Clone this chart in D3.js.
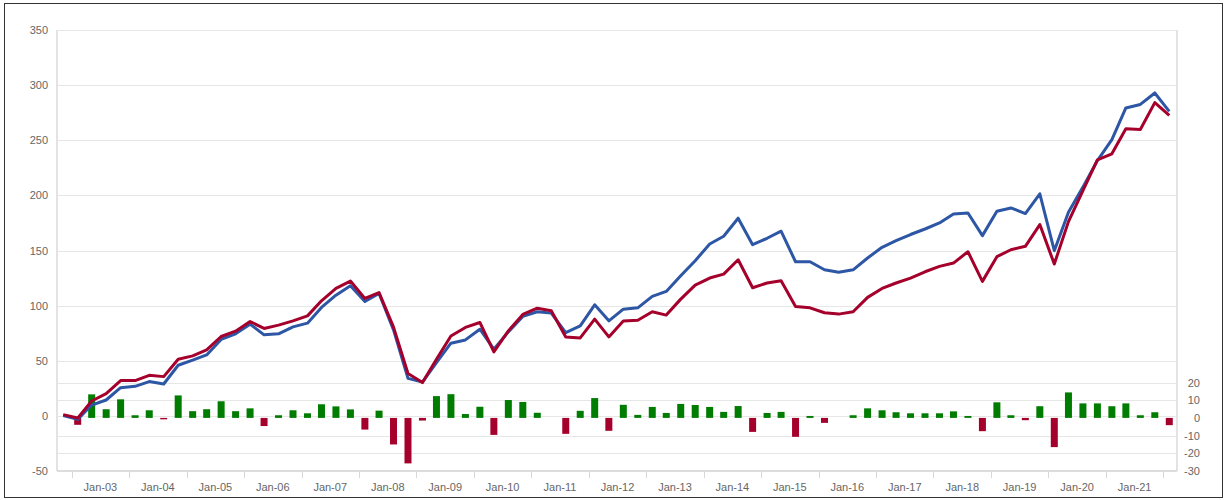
<!DOCTYPE html>
<html>
<head>
<meta charset="utf-8">
<script src="https://cdnjs.cloudflare.com/ajax/libs/d3/7.8.5/d3.min.js"></script>
<style>
  body { margin: 0; background: #fff; }
  svg text { font-family: "Liberation Sans", Arial, sans-serif; font-size: 11px; fill: #666; }
</style>
</head>
<body>
<div id="chart"></div>
<script>
// quarterly observations, Nov-02 .. Feb-22
var dates = d3.range(78).map(function(i) { return new Date(2002, 10 + 3 * i, 8); });

var blueSeries = [0.3, -3.2, 9.8, 14.4, 25.6, 26.8, 31.1, 28.9, 45.9, 50.5,
  55.3, 69.3, 74.4, 83.2, 73.5, 74.4, 80.7, 84.1, 98.4, 109.5,
  118, 103.8, 111, 78, 34, 30.7, 48.4, 65.9, 68.9, 78.6,
  60.5, 76.2, 90.2, 94.4, 93.2, 75.6, 81.6, 100.7, 86.2, 96.8,
  98, 108.4, 112.9, 127.1, 140.7, 155.9, 162.9, 179.3, 155.3, 161.1,
  167.5, 139.8, 139.8, 132.5, 130.2, 132.5, 143.2, 152.9, 158.9, 164.5,
  169.5, 175, 183.2, 184, 163.5, 185.6, 188.6, 183.5, 201.4, 149.8,
  184.7, 207.5, 231.6, 250.5, 279.3, 282.5, 292.9, 276.2];

var redSeries = [1.1, -2.0, 13.5, 20.2, 32.0, 32.0, 36.8, 35.6, 51.4, 54.4,
  59.8, 72.0, 76.8, 85.6, 79.3, 82.3, 86.2, 90.7, 104.4, 115.6,
  122.3, 106.5, 111.8, 80.5, 38.5, 30.2, 51.4, 72.5, 80.2, 84.7,
  58, 77.1, 92, 97.7, 95.3, 71.6, 70.7, 87.7, 71.6, 86,
  86.8, 94.4, 91.4, 105.9, 118.6, 125, 128.6, 141.6, 116.2, 120.5,
  122.5, 99.3, 98, 93.5, 92.3, 94.4, 107.5, 115.6, 120.5, 125,
  130.7, 135.6, 138.6, 148.9, 122, 144.4, 150.7, 153.8, 173.5, 137.7,
  176.2, 204.4, 232.3, 237.7, 260.5, 259.8, 284.1, 272.5];

var barSeries = [null, -3.9, 13.3, 4.9, 10.5, 1.5, 4.3, -0.8, 12.7, 3.8,
  4.9, 9.4, 3.8, 5.4, -4.6, 1.5, 4.3, 2.6, 7.7, 6.5,
  4.8, -6.6, 4.1, -15, -25.7, -1.5, 12.3, 13.4, 2.2, 6.3,
  -9.6, 10.1, 9.0, 2.9, 0, -9.0, 4.0, 11.2, -7.3, 7.4,
  1.7, 6.2, 2.8, 7.9, 7.3, 6.2, 3.4, 6.7, -7.9, 2.8,
  3.4, -10.7, 1.1, -2.8, 0, 1.5, 5.4, 4.3, 3.2, 2.6,
  2.6, 2.6, 3.7, 1.1, -7.5, 8.8, 1.5, -1.3, 6.6, -16.5,
  14.4, 8.2, 8.2, 6.6, 8.2, 1.5, 3.2, -4.1];

var leftTicks = [-50, 0, 50, 100, 150, 200, 250, 300, 350];
var rightTicks = [-30, -20, -10, 0, 10, 20];
var yearTicks = d3.range(2003, 2023).map(function(y) { return new Date(y, 0, 1); });

var W = 1226, H = 500;
var plot = { left: 57, right: 1177, top: 30, bottom: 471 };

var svg = d3.select("#chart").append("svg")
    .attr("width", W)
    .attr("height", H);

// outer frame
svg.append("rect")
    .attr("x", 4.5).attr("y", 3.5)
    .attr("width", 1218).attr("height", 494)
    .attr("fill", "none")
    .attr("stroke", "#333")
    .attr("stroke-width", 1);

var x = d3.scaleTime()
    .domain([new Date(2003, 0, 1), new Date(2022, 0, 1)])
    .range([71.7, 1163.3]);

var yL = d3.scaleLinear().domain([-50, 350]).range([plot.bottom, plot.top]);
var yR = d3.scaleLinear().domain([-30, 20]).range([plot.bottom, 382.5]);

// gridlines
var grid = svg.append("g");
grid.selectAll(".gl").data(leftTicks).enter().append("line")
    .attr("x1", plot.left).attr("x2", plot.right)
    .attr("y1", function(d) { return Math.round(yL(d)) + 0.5; })
    .attr("y2", function(d) { return Math.round(yL(d)) + 0.5; })
    .attr("stroke", "#e6e6e6");
grid.selectAll(".gr").data(rightTicks.filter(function(d) { return d != 0 && d != -30; })).enter().append("line")
    .attr("x1", plot.left).attr("x2", plot.right)
    .attr("y1", function(d) { return Math.round(yR(d)) + 0.5; })
    .attr("y2", function(d) { return Math.round(yR(d)) + 0.5; })
    .attr("stroke", "#e6e6e6");

// frame lines of the plot
svg.append("line").attr("x1", plot.left).attr("x2", plot.left)
    .attr("y1", plot.top).attr("y2", plot.bottom)
    .attr("stroke", "#e3e3e3").attr("stroke-width", 2);
svg.append("line").attr("x1", plot.right).attr("x2", plot.right)
    .attr("y1", plot.top).attr("y2", plot.bottom)
    .attr("stroke", "#e3e3e3").attr("stroke-width", 2);
svg.append("line").attr("x1", plot.left).attr("x2", plot.right)
    .attr("y1", plot.bottom).attr("y2", plot.bottom)
    .attr("stroke", "#dcdcdc").attr("stroke-width", 2);

// bottom ticks and year labels
svg.selectAll(".xt").data(yearTicks).enter().append("line")
    .attr("x1", function(d) { return Math.round(x(d)) + 0.5; })
    .attr("x2", function(d) { return Math.round(x(d)) + 0.5; })
    .attr("y1", plot.bottom + 1).attr("y2", plot.bottom + 7)
    .attr("stroke", "#d8d8d8");
var fmt = d3.timeFormat("%b-%y");
svg.selectAll(".xl").data(yearTicks.slice(0, -1)).enter().append("text")
    .attr("x", function(d, i) { return (x(d) + x(yearTicks[i + 1])) / 2; })
    .attr("y", 491)
    .attr("text-anchor", "middle")
    .text(function(d) { return fmt(d); });

// left axis labels
svg.selectAll(".yl").data(leftTicks).enter().append("text")
    .attr("x", 48)
    .attr("y", function(d) { return yL(d) + 4; })
    .attr("text-anchor", "end")
    .text(function(d) { return d; });

// right axis labels
svg.selectAll(".yr").data(rightTicks).enter().append("text")
    .attr("x", 1200)
    .attr("y", function(d) { return yR(d) + 4; })
    .attr("text-anchor", "end")
    .text(function(d) { return d; });

// bars
var barW = 7;
svg.append("g").selectAll("rect")
    .data(barSeries.map(function(v, i) { return { d: dates[i], v: v }; })
      .filter(function(o) { return o.v != null && o.v != 0; }))
    .enter().append("rect")
    .attr("x", function(o) { return x(o.d) - barW / 2; })
    .attr("width", barW)
    .attr("y", function(o) { return Math.min(yR(o.v), yR(0)); })
    .attr("height", function(o) { return Math.abs(yR(o.v) - yR(0)); })
    .attr("fill", function(o) { return o.v > 0 ? "#007c00" : "#a5002c"; });

// lines
var line = d3.line()
    .x(function(d, i) { return x(dates[i]); })
    .y(function(d) { return yL(d); });

svg.append("path")
    .datum(blueSeries)
    .attr("d", line)
    .attr("fill", "none")
    .attr("stroke", "#2d56a5")
    .attr("stroke-width", 3)
    .attr("stroke-linejoin", "round");

svg.append("path")
    .datum(redSeries)
    .attr("d", line)
    .attr("fill", "none")
    .attr("stroke", "#a5002c")
    .attr("stroke-width", 3)
    .attr("stroke-linejoin", "round");
</script>
</body>
</html>
